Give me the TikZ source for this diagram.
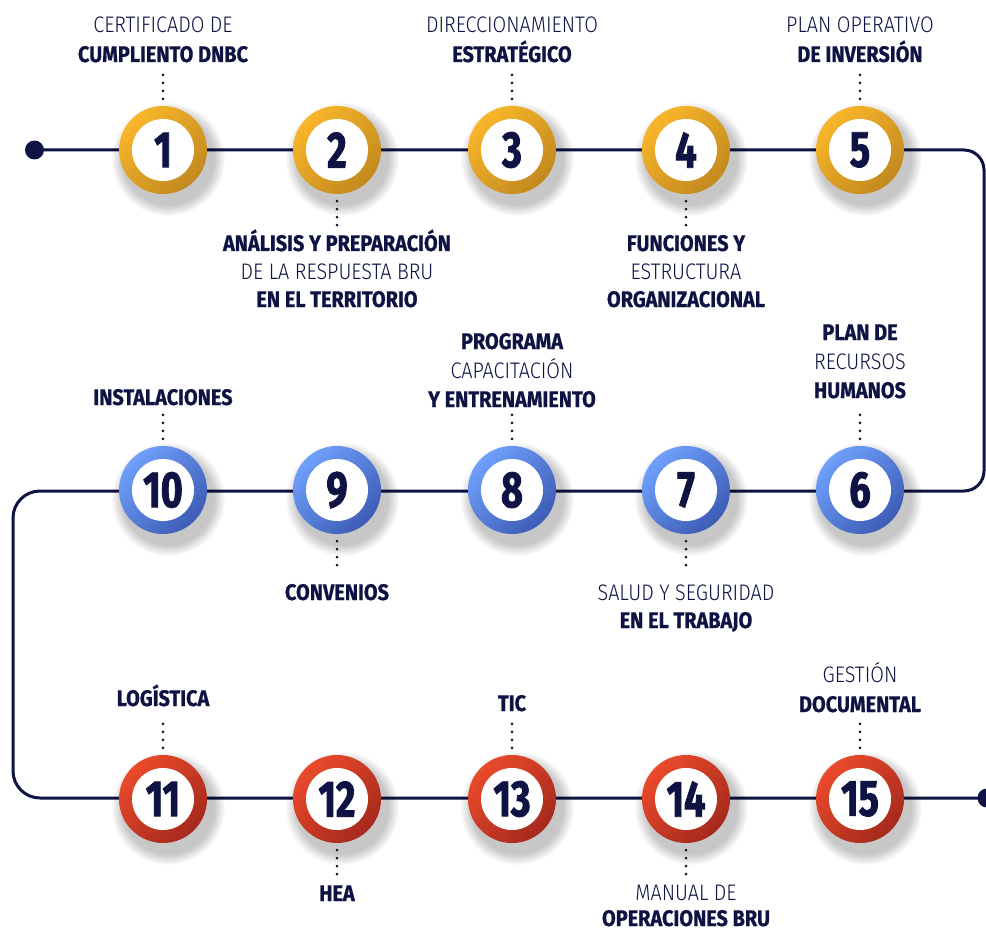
\documentclass[tikz,border=0pt]{standalone}
\usepackage{fontspec}
\setmainfont{Fira Sans}[FakeStretch=0.885, BoldFeatures={FakeBold=0.8}]
\newfontfamily\lightf{Fira Sans Light}[FakeStretch=0.88]
\newfontfamily\numf{Fira Sans}[FakeStretch=0.74, BoldFeatures={FakeBold=1.6}]
\usetikzlibrary{fadings}
\definecolor{navy}{HTML}{0F1343}
\definecolor{yelT}{HTML}{F8B62A}
\definecolor{yelB}{HTML}{C2891F}
\definecolor{bluT}{HTML}{6FA0FB}
\definecolor{bluB}{HTML}{3D5CB5}
\definecolor{redT}{HTML}{EA4A2B}
\definecolor{redB}{HTML}{A5291C}
\tikzset{
  mainline/.style={draw=navy, line width=3pt},
  enddot/.style={circle, fill=navy, minimum size=19pt, inner sep=0pt},
  ring/.style={circle, minimum size=88pt, inner sep=0pt},
  numtext/.style={font=\fontsize{51}{51}\selectfont\numf\bfseries, text=navy, inner sep=0pt},
  boldl/.style={font=\fontsize{22.5}{28}\selectfont\bfseries, text=navy, inner sep=0pt, anchor=base},
  lightl/.style={font=\fontsize{22.5}{28}\selectfont\lightf, text=navy, inner sep=0pt, anchor=base},
  dotsline/.style={draw=navy, line width=3pt, line cap=round, dash pattern=on 0pt off 8pt}
}
\newcommand{\mkstep}[5]{%
  \fill[black, opacity=0.22, path fading=circle with fuzzy edge 20 percent] (#2+5,#3+9) circle (57);
  \node[ring, top color=#4T, bottom color=#4B, shading angle=45] (#1) at (#2,#3) {};
  \fill[white] (#1.center) circle (31);
  \node[numtext] (#1n) at (#1.center) {#5};
}
\newcommand{\dotsup}[1]{\draw[dotsline] ([yshift=7pt]#1.north) -- ([yshift=32pt]#1.north);}
\newcommand{\dotsdown}[1]{\draw[dotsline] ([yshift=-7pt]#1.south) -- ([yshift=-32pt]#1.south);}
\begin{document}
\begin{tikzpicture}[x=1pt,y=-1pt]
\useasboundingbox (0,0) rectangle (986,931);
\fill[white] (0,0) rectangle (986,931);
% main line
\node[enddot] (s) at (34.5,150) {};
\node[enddot] (e) at (987,798) {};
\coordinate (tr) at (984,150);
\coordinate (br) at (984,491);
\coordinate (tl) at (13,491);
\coordinate (bl) at (13,798);
\draw[mainline, rounded corners=20pt] (s.center) -- (tr) -- (br) [rounded corners=27pt] -- (tl) -- (bl) -- (e.center);
% steps
\mkstep{c1}{163}{150}{yel}{1}
\mkstep{c2}{337}{150}{yel}{2}
\mkstep{c3}{512}{150}{yel}{3}
\mkstep{c4}{686}{150}{yel}{4}
\mkstep{c5}{860}{150}{yel}{5}
\mkstep{c6}{860}{490}{blu}{6}
\mkstep{c7}{686}{490}{blu}{7}
\mkstep{c8}{512}{490}{blu}{8}
\mkstep{c9}{337}{490}{blu}{9}
\mkstep{c10}{163}{490}{blu}{10}
\mkstep{c11}{163}{799}{red}{11}
\mkstep{c12}{337}{799}{red}{12}
\mkstep{c13}{512}{799}{red}{13}
\mkstep{c14}{686}{799}{red}{14}
\mkstep{c15}{860}{799}{red}{15}
% labels row 1
\node[lightl] (l1a) at (163,33) {CERTIFICADO DE};
\node[boldl] (l1b) at (163,62) {CUMPLIENTO DNBC};
\node[boldl] (l2a) at (337,251) {ANÁLISIS Y PREPARACIÓN};
\node[lightl] (l2b) at (337,279) {DE LA RESPUESTA BRU};
\node[boldl] (l2c) at (337,307) {EN EL TERRITORIO};
\node[lightl] (l3a) at (512,33) {DIRECCIONAMIENTO};
\node[boldl] (l3b) at (512,62) {ESTRATÉGICO};
\node[boldl] (l4a) at (686,251) {FUNCIONES Y};
\node[lightl] (l4b) at (686,279) {ESTRUCTURA};
\node[boldl] (l4c) at (686,307) {ORGANIZACIONAL};
\node[lightl] (l5a) at (860,33) {PLAN OPERATIVO};
\node[boldl] (l5b) at (860,62) {DE INVERSIÓN};
% labels row 2
\node[boldl] (l6a) at (860,340) {PLAN DE};
\node[lightl] (l6b) at (860,369) {RECURSOS};
\node[boldl] (l6c) at (860,398) {HUMANOS};
\node[lightl] (l7a) at (686,600) {SALUD Y SEGURIDAD};
\node[boldl] (l7b) at (686,628) {EN EL TRABAJO};
\node[boldl] (l8a) at (512,349) {PROGRAMA};
\node[lightl] (l8b) at (512,378) {CAPACITACIÓN};
\node[boldl] (l8c) at (512,407) {Y ENTRENAMIENTO};
\node[boldl] (l9a) at (337,600) {CONVENIOS};
\node[boldl] (l10a) at (163,405) {INSTALACIONES};
% labels row 3
\node[boldl] (l11a) at (163,706) {LOGÍSTICA};
\node[boldl] (l12a) at (337,901) {HEA};
\node[boldl] (l13a) at (512,711) {TIC};
\node[lightl] (l14a) at (686,900) {MANUAL DE};
\node[boldl] (l14b) at (686,926) {OPERACIONES BRU};
\node[lightl] (l15a) at (860,682) {GESTIÓN};
\node[boldl] (l15b) at (860,712) {DOCUMENTAL};
% dotted connectors
\dotsup{c1}\dotsdown{c2}\dotsup{c3}\dotsdown{c4}\dotsup{c5}
\dotsup{c6}\dotsdown{c7}\dotsup{c8}\dotsdown{c9}\dotsup{c10}
\dotsup{c11}\dotsdown{c12}\dotsup{c13}\dotsdown{c14}\dotsup{c15}
\end{tikzpicture}
\end{document}
